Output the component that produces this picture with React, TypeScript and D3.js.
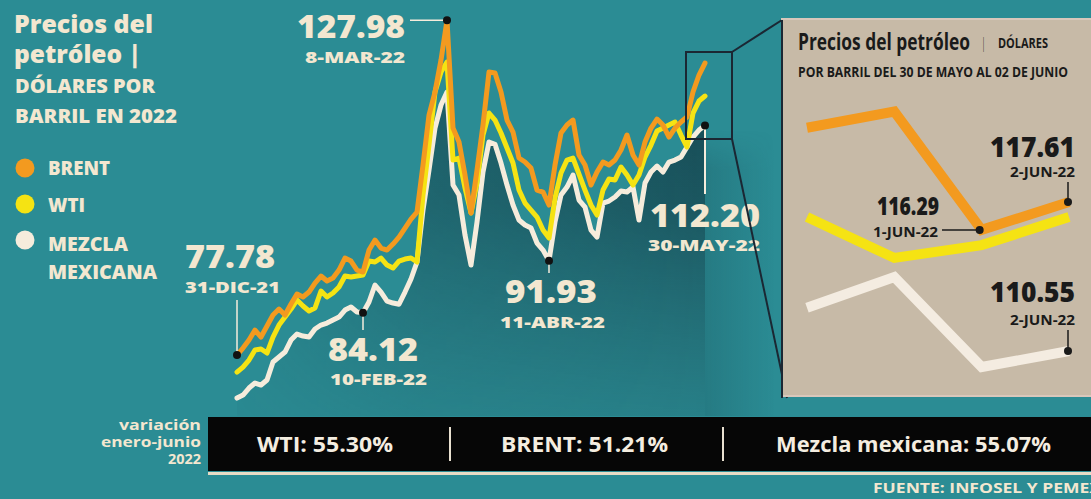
import React from 'react';
import * as d3 from 'd3';

// ---- DATA ----
const brent = [77.78, 78.83, 80.03, 81.53, 80.48, 82.13, 83.78, 84.68, 83.78, 85.43, 86.93, 86.48, 87.23, 88.58, 89.63, 88.88, 89.33, 90.53, 92.33, 91.88, 90.53, 90.23, 93.53, 95.03, 93.83, 93.53, 94.43, 95.48, 96.83, 98.18, 99.23, 106.28, 113.78, 117.23, 122.03, 127.98, 111.83, 109.73, 104.78, 99.08, 105.53, 112.28, 120.23, 120.08, 117.23, 113.03, 111.23, 107.33, 106.73, 105.83, 102.53, 102.23, 100.28, 106.28, 111.08, 112.28, 113.03, 107.78, 106.28, 103.28, 105.23, 106.73, 106.28, 107.03, 108.53, 110.78, 107.78, 106.28, 109.73, 111.83, 113.18, 112.28, 110.48, 111.83, 112.73, 113.48, 117.23, 119.78, 121.58];
const wti = [75.21, 75.98, 77.03, 78.53, 78.68, 78.08, 80.48, 82.28, 83.48, 84.68, 86.03, 85.13, 84.38, 84.83, 87.38, 86.48, 87.08, 87.98, 89.63, 89.48, 89.63, 89.78, 91.88, 91.73, 92.33, 91.28, 90.83, 91.88, 92.18, 92.33, 91.73, 101.78, 109.28, 117.23, 120.23, 121.73, 107.03, 107.33, 102.83, 99.08, 103.58, 110.78, 114.08, 113.03, 111.08, 108.83, 106.58, 102.53, 100.58, 99.53, 98.48, 96.53, 95.33, 101.33, 105.08, 107.03, 107.33, 104.93, 102.53, 100.28, 98.78, 102.53, 104.18, 104.03, 105.98, 104.78, 103.28, 104.78, 107.48, 109.28, 111.38, 111.83, 112.28, 112.73, 110.78, 108.98, 114.08, 115.88, 116.63];
const mezcla = [71.33, 71.78, 72.83, 73.58, 73.28, 74.03, 76.73, 77.48, 78.23, 80.03, 80.93, 80.63, 80.48, 81.68, 82.28, 82.58, 83.03, 83.48, 84.53, 84.98, 84.23, 84.12, 85.73, 88.28, 87.23, 85.88, 85.58, 85.4, 87.23, 89.18, 91.73, 99.53, 105.53, 111.83, 115.28, 117.23, 103.28, 101.78, 95.78, 91.28, 97.73, 105.23, 109.73, 109.4, 106.58, 103.28, 100.28, 98.03, 97.28, 96.83, 94.58, 93.53, 91.93, 97.73, 101.78, 102.98, 104.78, 101.03, 99.98, 96.53, 95.48, 100.58, 100.88, 101.48, 102.38, 102.23, 102.98, 98.03, 103.58, 105.23, 106.13, 105.23, 106.73, 107.03, 107.48, 108.98, 110.48, 111.53, 112.2];

const highlightSeries = ['brent', 'brent', 'mezcla', 'mezcla', 'mezcla'];
const highlightIndex = [0, 35, 21, 52, 78];
const highlightValue = ['77.78', '127.98', '84.12', '91.93', '112.20'];
const highlightDate = ['31-DIC-21', '8-MAR-22', '10-FEB-22', '11-ABR-22', '30-MAY-22'];

const insetDays = ['30-MAY-22', '31-MAY-22', '1-JUN-22', '2-JUN-22'];
const brentInset = [121.13, 121.9, 116.29, 117.61];
const wtiInset = [116.9, 114.96, 115.57, 116.9];
const mezclaInset = [112.6, 114.06, 109.79, 110.55];

const legendLabels = ['BRENT', 'WTI', 'MEZCLA', 'MEXICANA'];
const variationLabels = ['WTI: 55.30%', 'BRENT: 51.21%', 'Mezcla mexicana: 55.07%'];

// ---- STYLE ----
const BG = '#2b8c94';
const ORANGE = '#f39a1f';
const YELLOW = '#f5e313';
const CREAM = '#f6ecdc';
const TXT = '#f3e7d0';
const DARK = '#1a1a1a';
const MAIN_FONT = "'Open Sans', Lato, 'DejaVu Sans', sans-serif";
const COND_FONT = "'Liberation Sans Narrow', 'Open Sans', Roboto, sans-serif";

function T(props: any) {
  const { x, y, size, w, anchor = 'start', font = MAIN_FONT, weight = 800, fill = TXT, children } = props;
  return (
    <text x={x} y={y} fontSize={size} fontFamily={font} fontWeight={weight} fill={fill}
      textAnchor={anchor} textLength={w} lengthAdjust="spacingAndGlyphs">{children}</text>
  );
}

export default function App() {
  const W = 1091, H = 499;
  const x = d3.scaleLinear().domain([0, brent.length - 1]).range([237, 705]);
  const y = d3.scaleLinear().domain([70, 130]).range([406.9, 6.9]);
  const line = d3.line<number>().x((_, i) => x(i)).y(d => y(d)).curve(d3.curveLinear);
  const area = d3.area<number>().x((_, i) => x(i)).y0(416).y1(d => y(d));

  const seriesMap: Record<string, number[]> = { brent, wti, mezcla };

  const xi = d3.scaleLinear().domain([0, insetDays.length - 1]).range([807, 1069]);
  const yi = d3.scaleLinear().domain([109, 123]).range([383.7, 88.3]);
  const lineI = d3.line<number>().x((_, i) => xi(i)).y(d => yi(d));

  const hp = highlightIndex.map((idx, k) => ({ cx: x(idx), cy: y(seriesMap[highlightSeries[k]][idx]) }));

  // label layouts: [valueX, valueY, valueW, dateX, dateY, dateW]
  const lay = [
    [185, 268, 90, 185, 293, 95],
    [297, 38, 108, 305, 63, 100],
    [328, 361, 90, 330, 385, 97],
    [505, 303, 92, 500, 328, 105],
    [650, 227, 110, 648, 251, 112],
  ];

  return (
    <svg width={W} height={H} style={{ position: 'fixed', left: 0, top: 0, display: 'block' }}>
      <defs>
        <linearGradient id="areaV" gradientUnits="userSpaceOnUse" x1="0" y1="30" x2="0" y2="416">
          <stop offset="0" stopColor="#123c46" stopOpacity="0.9" />
          <stop offset="0.45" stopColor="#143f49" stopOpacity="0.7" />
          <stop offset="1" stopColor="#1a4d56" stopOpacity="0.2" />
        </linearGradient>
        <linearGradient id="areaH" gradientUnits="userSpaceOnUse" x1="237" y1="0" x2="705" y2="0">
          <stop offset="0" stopColor="#fff" stopOpacity="0.2" />
          <stop offset="0.4" stopColor="#fff" stopOpacity="0.7" />
          <stop offset="1" stopColor="#fff" stopOpacity="1" />
        </linearGradient>
        <mask id="areaMask">
          <rect x="0" y="0" width={W} height={H} fill="url(#areaH)" />
        </mask>
        <linearGradient id="shadowR" gradientUnits="userSpaceOnUse" x1="705" y1="0" x2="775" y2="0">
          <stop offset="0" stopColor="#143f49" stopOpacity="0.22" />
          <stop offset="1" stopColor="#143f49" stopOpacity="0" />
        </linearGradient>
        <linearGradient id="shadowV" gradientUnits="userSpaceOnUse" x1="0" y1="130" x2="0" y2="170">
          <stop offset="0" stopColor="#fff" stopOpacity="0" />
          <stop offset="1" stopColor="#fff" stopOpacity="1" />
        </linearGradient>
        <mask id="shadowMask">
          <rect x="700" y="120" width="90" height="300" fill="url(#shadowV)" />
        </mask>
      </defs>

      <rect x={0} y={0} width={W} height={H} fill={BG} />

      {/* Titles */}
      <T x={14} y={33} size={24} w={139}>Precios del</T>
      <T x={14} y={63} size={24} w={127}>petróleo |</T>
      <T x={15} y={93} size={19} w={140}>DÓLARES POR</T>
      <T x={15} y={123} size={19} w={162}>BARRIL EN 2022</T>

      {/* Legend */}
      <circle cx={25} cy={168} r={9.5} fill={ORANGE} />
      <circle cx={25} cy={204} r={9.5} fill={YELLOW} />
      <circle cx={25} cy={240} r={9.5} fill={CREAM} />
      <T x={48} y={175} size={19} w={62}>{legendLabels[0]}</T>
      <T x={48} y={212} size={19} w={37}>{legendLabels[1]}</T>
      <T x={48} y={251} size={19} w={80}>{legendLabels[2]}</T>
      <T x={48} y={279} size={19} w={109}>{legendLabels[3]}</T>

      {/* Dark area */}
      <path d={area(mezcla) || ''} fill="url(#areaV)" mask="url(#areaMask)" />
      <rect x={705} y={130} width={70} height={286} fill="url(#shadowR)" mask="url(#shadowMask)" />

      {/* Lines */}
      <path d={line(mezcla) || ''} fill="none" stroke={CREAM} strokeWidth={5} strokeLinejoin="round" strokeLinecap="round" />
      <path d={line(wti) || ''} fill="none" stroke={YELLOW} strokeWidth={5} strokeLinejoin="round" strokeLinecap="round" />
      <path d={line(brent) || ''} fill="none" stroke={ORANGE} strokeWidth={5} strokeLinejoin="round" strokeLinecap="round" />

      {/* Leaders */}
      <line x1={hp[0].cx} y1={300} x2={hp[0].cx} y2={hp[0].cy} stroke={CREAM} strokeWidth={1.5} />
      <line x1={410} y1={hp[1].cy} x2={hp[1].cx} y2={hp[1].cy} stroke={CREAM} strokeWidth={1.5} />
      <line x1={hp[2].cx} y1={hp[2].cy} x2={hp[2].cx} y2={330} stroke={CREAM} strokeWidth={1.5} />
      <line x1={hp[3].cx} y1={hp[3].cy} x2={hp[3].cx} y2={273} stroke={CREAM} strokeWidth={1.5} />
      <line x1={hp[4].cx} y1={hp[4].cy} x2={hp[4].cx} y2={194} stroke={CREAM} strokeWidth={2} />
      {hp.map((p, k) => <circle key={k} cx={p.cx} cy={p.cy} r={4} fill="#111" />)}

      {highlightValue.map((v, k) => (
        <g key={k}>
          <T x={lay[k][0]} y={lay[k][1]} size={31} w={lay[k][2]}>{v}</T>
          <T x={lay[k][3]} y={lay[k][4]} size={16} w={lay[k][5]}>{highlightDate[k]}</T>
        </g>
      ))}

      {/* Zoom box and connectors */}
      <rect x={686} y={52} width={46} height={87} fill="none" stroke="#1b2733" strokeWidth={2} />
      <line x1={732} y1={52} x2={782} y2={20} stroke="#1b2733" strokeWidth={2} />
      <line x1={732} y1={139} x2={787} y2={398} stroke="#1b2733" strokeWidth={2} />

      {/* Inset panel */}
      <rect x={782} y={19} width={312} height={377} fill="#c7baa7" stroke="#d9c7bb" strokeWidth={2} />
      <line x1={782} y1={20} x2={782} y2={398} stroke="#1b2733" strokeWidth={2} />
      <T x={798} y={50} size={24} w={172} font={COND_FONT} weight={700} fill={DARK}>Precios del petróleo</T>
      <T x={982} y={48} size={15} w={3} font={COND_FONT} weight={400} fill={DARK}>|</T>
      <T x={998} y={48} size={14} w={50} font={COND_FONT} weight={700} fill={DARK}>DÓLARES</T>
      <T x={798} y={77} size={14} w={270} font={COND_FONT} weight={700} fill={DARK}>POR BARRIL DEL 30 DE MAYO AL 02 DE JUNIO</T>

      <path d={lineI(mezclaInset) || ''} fill="none" stroke="#f4ece1" strokeWidth={10} strokeLinejoin="miter" />
      <path d={lineI(wtiInset) || ''} fill="none" stroke={YELLOW} strokeWidth={10} strokeLinejoin="miter" />
      <path d={lineI(brentInset) || ''} fill="none" stroke={ORANGE} strokeWidth={10} strokeLinejoin="miter" />

      <line x1={xi(3) - 1} y1={182} x2={xi(3) - 1} y2={yi(brentInset[3])} stroke={DARK} strokeWidth={1.5} />
      <line x1={942} y1={yi(brentInset[2])} x2={xi(2)} y2={yi(brentInset[2])} stroke={DARK} strokeWidth={1.5} />
      <line x1={xi(3) - 1} y1={330} x2={xi(3) - 1} y2={yi(mezclaInset[3])} stroke={DARK} strokeWidth={1.5} />
      <circle cx={xi(3) - 1} cy={yi(brentInset[3])} r={4} fill={DARK} />
      <circle cx={xi(2) - 2} cy={yi(brentInset[2])} r={4} fill={DARK} />
      <circle cx={xi(3) - 1} cy={yi(mezclaInset[3])} r={4} fill={DARK} />

      <T x={1075} y={157} size={28} w={85} anchor="end" fill={DARK}>117.61</T>
      <T x={1075} y={177} size={14} w={65} anchor="end" font={COND_FONT} weight={700} fill={DARK}>{insetDays[3]}</T>
      <T x={877} y={215} size={24} w={62} fill={DARK}>116.29</T>
      <T x={873} y={237} size={14} w={65} font={COND_FONT} weight={700} fill={DARK}>{insetDays[2]}</T>
      <T x={1075} y={302} size={28} w={85} anchor="end" fill={DARK}>110.55</T>
      <T x={1075} y={325} size={14} w={65} anchor="end" font={COND_FONT} weight={700} fill={DARK}>{insetDays[3]}</T>

      {/* Bottom bar */}
      <rect x={208} y={417} width={883} height={54} fill="#060606" />
      <rect x={208} y={472} width={883} height={3} fill="#e8dcc6" />
      <line x1={450} y1={427} x2={450} y2={461} stroke="#e8e0d0" strokeWidth={2} />
      <line x1={723} y1={427} x2={723} y2={461} stroke="#e8e0d0" strokeWidth={2} />
      <T x={257} y={452} size={22} w={136} font={COND_FONT} weight={700} fill="#f4ede0">{variationLabels[0]}</T>
      <T x={501} y={452} size={22} w={167} font={COND_FONT} weight={700} fill="#f4ede0">{variationLabels[1]}</T>
      <T x={776} y={452} size={22} w={275} font={COND_FONT} weight={700} fill="#f4ede0">{variationLabels[2]}</T>

      <T x={201} y={430} size={15} w={82} anchor="end" font={COND_FONT} weight={700} fill={TXT}>variación</T>
      <T x={201} y={447} size={15} w={100} anchor="end" font={COND_FONT} weight={700} fill={TXT}>enero-junio</T>
      <T x={201} y={464} size={15} w={33} anchor="end" font={COND_FONT} weight={700} fill={TXT}>2022</T>

      <T x={873} y={493} size={14} w={228} font={COND_FONT} weight={700} fill={TXT}>FUENTE: INFOSEL Y PEMEX</T>
    </svg>
  );
}
